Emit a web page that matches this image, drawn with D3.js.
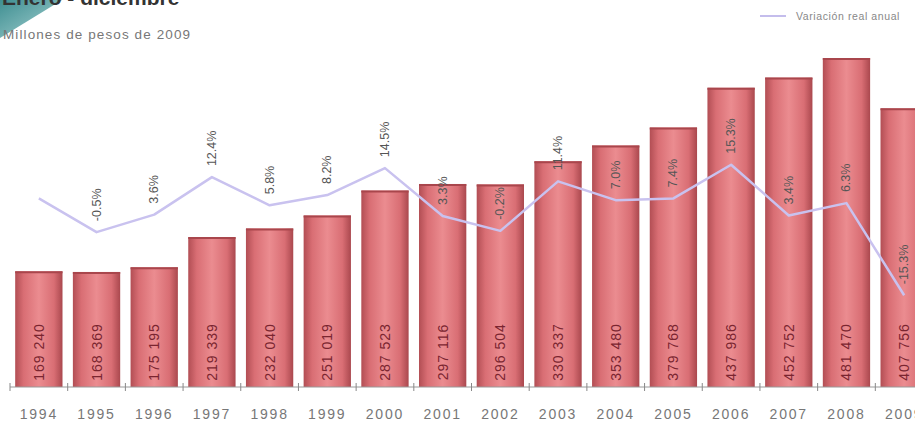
<!DOCTYPE html>
<html>
<head>
<meta charset="utf-8">
<script src="https://cdn.jsdelivr.net/npm/d3@7"></script>
<style>
  body { margin: 0; background: #fff; overflow: hidden; }
  svg { display: block; font-family: "Liberation Sans", Arial, sans-serif; }
</style>
</head>
<body>
<svg id="chart" width="915" height="422"></svg>
<script>
// 데이터
const years = ["1994", "1995", "1996", "1997", "1998", "1999", "2000", "2001",
               "2002", "2003", "2004", "2005", "2006", "2007", "2008", "2009"];
const ingresos = [169240, 168369, 175195, 219339, 232040, 251019, 287523, 297116,
                  296504, 330337, 353480, 379768, 437986, 452752, 481470, 407756];
const ingresoLabels = ["169 240", "168 369", "175 195", "219 339", "232 040", "251 019",
                       "287 523", "297 116", "296 504", "330 337", "353 480", "379 768",
                       "437 986", "452 752", "481 470", "407 756"];
const variacion = [7.4, -0.5, 3.6, 12.4, 5.8, 8.2, 14.5, 3.3, -0.2, 11.4, 7.0, 7.4, 15.3, 3.4, 6.3, -15.3];
const variacionLabels = [null, "-0.5%", "3.6%", "12.4%", "5.8%", "8.2%", "14.5%", "3.3%",
                         "-0.2%", "11.4%", "7.0%", "7.4%", "15.3%", "3.4%", "6.3%", "-15.3%"];

const svg = d3.select("#chart");
const baseY = 387;

// 그라데이션 정의
const defs = svg.append("defs");
const grad = defs.append("linearGradient")
    .attr("id", "barGrad")
    .attr("x1", "0%").attr("x2", "100%")
    .attr("y1", "0%").attr("y2", "0%");
grad.append("stop").attr("offset", "0%").attr("stop-color", "#b24e54");
grad.append("stop").attr("offset", "18%").attr("stop-color", "#d96e74");
grad.append("stop").attr("offset", "50%").attr("stop-color", "#eb8c90");
grad.append("stop").attr("offset", "82%").attr("stop-color", "#d96e74");
grad.append("stop").attr("offset", "100%").attr("stop-color", "#aa484e");

const corner = defs.append("linearGradient")
    .attr("id", "cornerGrad")
    .attr("x1", "0%").attr("x2", "100%")
    .attr("y1", "0%").attr("y2", "100%");
corner.append("stop").attr("offset", "0%").attr("stop-color", "#3f8f92");
corner.append("stop").attr("offset", "100%").attr("stop-color", "#a9d3d3");

// 왼쪽 위 장식
svg.append("path")
    .attr("d", "M0,0 L62,0 L0,38 Z")
    .attr("fill", "url(#cornerGrad)");

// 제목 (위쪽이 잘림)
svg.append("text")
    .attr("x", 2)
    .attr("y", 5)
    .style("font-size", "21px")
    .style("font-weight", "bold")
    .style("fill", "#333")
    .text("Enero - diciembre");

svg.append("text")
    .attr("x", 3)
    .attr("y", 39)
    .style("font-size", "13.5px")
    .style("letter-spacing", "1.1px")
    .style("fill", "#777")
    .text("Millones de pesos de 2009");

// 범례
svg.append("line")
    .attr("x1", 760).attr("x2", 786)
    .attr("y1", 16).attr("y2", 16)
    .attr("stroke", "#c4bdec")
    .attr("stroke-width", 2);

svg.append("text")
    .attr("x", 796)
    .attr("y", 20)
    .style("font-size", "10.5px")
    .style("letter-spacing", "0.6px")
    .style("fill", "#888")
    .text("Variación real anual");

// 스케일
const x = d3.scaleBand()
    .domain(years)
    .range([10, 933])
    .paddingInner(0.18)
    .paddingOuter(0.09);

const y = d3.scaleLinear()
    .domain([0, 481470])
    .range([baseY, 58]);

const yv = d3.scaleLinear()
    .domain([0, 15])
    .range([230, 166]);

// 막대
const bars = svg.append("g");
bars.selectAll("rect")
    .data(ingresos)
    .enter()
    .append("rect")
    .attr("x", (d, i) => x(years[i]))
    .attr("y", d => y(d))
    .attr("width", x.bandwidth())
    .attr("height", d => baseY - y(d))
    .attr("fill", "url(#barGrad)");

// 막대 위 테두리
bars.selectAll("line.cap")
    .data(ingresos)
    .enter()
    .append("line")
    .attr("class", "cap")
    .attr("x1", (d, i) => x(years[i]))
    .attr("x2", (d, i) => x(years[i]) + x.bandwidth())
    .attr("y1", d => y(d) + 1)
    .attr("y2", d => y(d) + 1)
    .attr("stroke", "#a9464c")
    .attr("stroke-width", 2);

// 막대 값 텍스트
bars.selectAll("text")
    .data(ingresoLabels)
    .enter()
    .append("text")
    .attr("transform", (d, i) => `translate(${x(years[i]) + x.bandwidth() / 2 + 5},352) rotate(-90)`)
    .attr("text-anchor", "middle")
    .style("font-size", "14px")
    .style("letter-spacing", "1px")
    .style("fill", "#7a2530")
    .text(d => d);

// 축
const axisG = svg.append("g");
axisG.append("line")
    .attr("x1", 10).attr("x2", 915)
    .attr("y1", baseY).attr("y2", baseY)
    .attr("stroke", "#999")
    .attr("stroke-width", 1);

axisG.selectAll("line.tick")
    .data(years)
    .enter()
    .append("line")
    .attr("class", "tick")
    .attr("x1", d => x(d) - x.step() * x.paddingInner() / 2)
    .attr("x2", d => x(d) - x.step() * x.paddingInner() / 2)
    .attr("y1", baseY - 4)
    .attr("y2", baseY + 4)
    .attr("stroke", "#888");

axisG.selectAll("text")
    .data(years)
    .enter()
    .append("text")
    .attr("x", d => x(d) + x.bandwidth() / 2)
    .attr("y", 419)
    .attr("text-anchor", "middle")
    .style("font-size", "14px")
    .style("letter-spacing", "1.8px")
    .style("fill", "#777")
    .text(d => d);

// 변동률 선
const line = d3.line()
    .x((d, i) => x(years[i]) + x.bandwidth() / 2)
    .y(d => yv(d));

svg.append("path")
    .datum(variacion)
    .attr("fill", "none")
    .attr("stroke", "#c9c2ef")
    .attr("stroke-width", 2.5)
    .attr("stroke-linejoin", "round")
    .attr("d", line);

// 변동률 텍스트
svg.append("g")
    .selectAll("text")
    .data(variacion.map((v, i) => ({ v, i })).filter(d => variacionLabels[d.i] !== null))
    .enter()
    .append("text")
    .attr("transform", d => `translate(${x(years[d.i]) + x.bandwidth() / 2 + 4},${yv(d.v) - 11}) rotate(-90)`)
    .attr("text-anchor", "start")
    .style("font-size", "12.5px")
    .style("fill", "#555")
    .text(d => variacionLabels[d.i]);
</script>
</body>
</html>
